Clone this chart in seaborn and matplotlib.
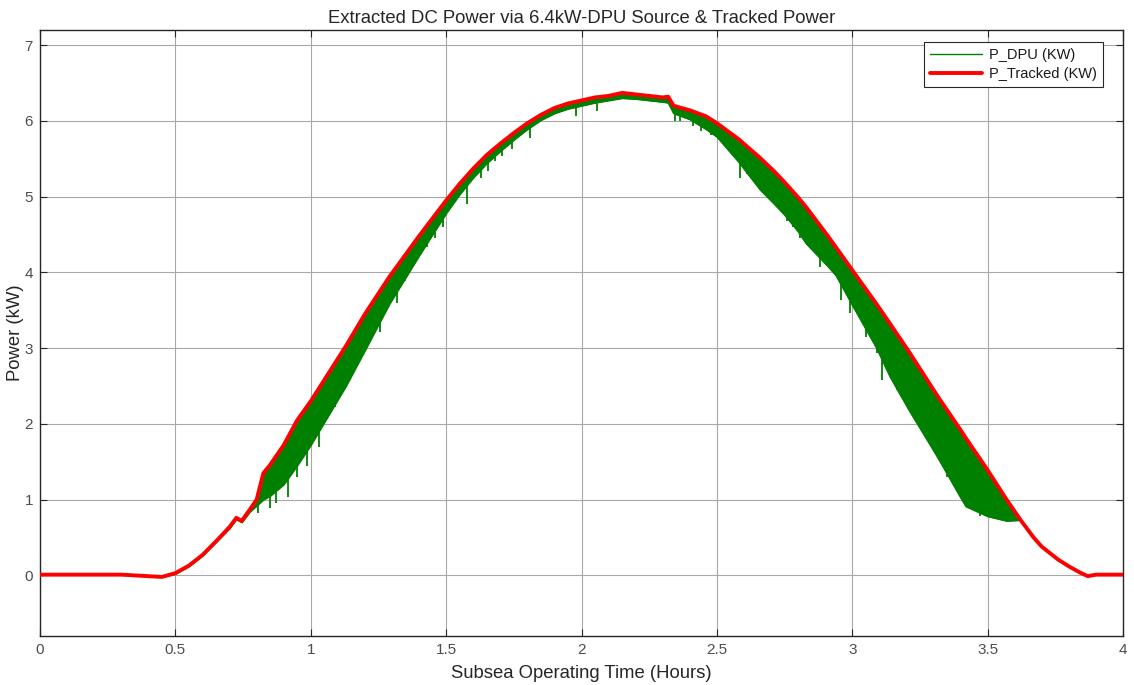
import numpy as np
import pandas as pd
import matplotlib
matplotlib.use("Agg")
import matplotlib.pyplot as plt
import seaborn as sns

# Time axis (hours) and the two power traces (kW)
t_hours = [0.00, 0.30, 0.45, 0.50, 0.55, 0.60, 0.65, 0.70, 0.725, 0.745, 0.775,
           0.80, 0.825, 0.85, 0.90, 0.95, 1.00, 1.05, 1.13, 1.20, 1.29, 1.40,
           1.50, 1.55, 1.60, 1.65, 1.70, 1.75, 1.80, 1.85, 1.90, 1.95, 2.00,
           2.05, 2.10, 2.15, 2.20, 2.25, 2.30, 2.32, 2.34, 2.40, 2.46, 2.50,
           2.58, 2.66, 2.71, 2.75, 2.80, 2.83, 2.91, 2.94, 3.00, 3.09, 3.14,
           3.21, 3.30, 3.32, 3.40, 3.42, 3.50, 3.57, 3.62, 3.67, 3.70, 3.76,
           3.80, 3.84, 3.87, 3.90, 4.00]

p_tracked = [0.01, 0.01, -0.02, 0.03, 0.13, 0.27, 0.45, 0.64, 0.76, 0.72, 0.87,
             1.00, 1.35, 1.46, 1.72, 2.05, 2.30, 2.58, 3.03, 3.45, 3.94, 4.48,
             4.95, 5.17, 5.37, 5.55, 5.70, 5.84, 5.97, 6.08, 6.17, 6.23, 6.27,
             6.31, 6.33, 6.37, 6.35, 6.33, 6.31, 6.32, 6.20, 6.14, 6.06, 5.97,
             5.76, 5.51, 5.34, 5.19, 4.99, 4.86, 4.48, 4.33, 4.03, 3.58, 3.32,
             2.95, 2.45, 2.34, 1.92, 1.81, 1.39, 1.00, 0.74, 0.50, 0.38, 0.21,
             0.12, 0.04, -0.01, 0.01, 0.01]

# Lower edge of the oscillating DPU power band
p_dpu_low = [0.01, 0.01, -0.02, 0.02, 0.12, 0.26, 0.44, 0.62, 0.74, 0.70, 0.84,
             0.92, 1.00, 1.05, 1.20, 1.45, 1.72, 2.02, 2.50, 2.97, 3.58, 4.22,
             4.78, 5.03, 5.25, 5.44, 5.60, 5.75, 5.89, 6.01, 6.10, 6.16, 6.20,
             6.24, 6.27, 6.30, 6.29, 6.27, 6.25, 6.24, 6.10, 6.02, 5.89, 5.79,
             5.46, 5.09, 4.91, 4.76, 4.54, 4.38, 4.08, 3.96, 3.57, 3.00, 2.62,
             2.18, 1.65, 1.53, 1.03, 0.91, 0.78, 0.72, 0.73, 0.50, 0.38, 0.21,
             0.12, 0.04, -0.01, 0.01, 0.01]

# Deep downward ripples of the DPU power (time, minimum value)
spike_t = [0.805, 0.85, 0.87, 0.916, 0.95, 0.985, 1.03, 1.09, 1.145, 1.19,
           1.256, 1.318, 1.348, 1.385, 1.43, 1.46, 1.49, 1.577, 1.63, 1.655,
           1.68, 1.706, 1.743, 1.81, 1.98, 2.057, 2.345, 2.364, 2.41, 2.44,
           2.48, 2.585, 2.61, 2.64, 2.76, 2.78, 2.807, 2.88, 2.96, 2.99, 3.05,
           3.09, 3.11, 3.165, 3.19, 3.35, 3.387, 3.435, 3.47, 3.52]
spike_low = [0.83, 0.89, 0.95, 1.03, 1.30, 1.45, 1.70, 2.22, 2.58, 2.88,
             3.21, 3.60, 3.89, 4.12, 4.33, 4.45, 4.60, 4.90, 5.25, 5.34,
             5.47, 5.54, 5.63, 5.78, 6.07, 6.13, 6.00, 6.00, 5.93, 5.87,
             5.82, 5.25, 5.30, 5.23, 4.68, 4.60, 4.46, 4.07, 3.63, 3.46, 3.15,
             2.93, 2.58, 2.45, 2.36, 1.30, 1.13, 0.91, 0.78, 0.78]

x_ticks = [0, 0.5, 1, 1.5, 2, 2.5, 3, 3.5, 4]
x_tick_labels = ["0", "0.5", "1", "1.5", "2", "2.5", "3", "3.5", "4"]
y_ticks = [0, 1, 2, 3, 4, 5, 6, 7]
y_tick_labels = ["0", "1", "2", "3", "4", "5", "6", "7"]

sns.set_theme(style="whitegrid")
plt.rcParams["font.family"] = ["Liberation Sans", "DejaVu Sans"]

GREEN = "#008000"
RED = "#ff0000"
TXT = "#4d4d4d"

df = pd.DataFrame({"t": t_hours, "tracked": p_tracked, "dpu_low": p_dpu_low})

fig = plt.figure(figsize=(11.34, 6.85), dpi=100)
ax = fig.add_axes([0.0353, 0.0715, 0.955, 0.8847])
ax.set_facecolor("white")

# DPU power: filled ripple band plus its deepest excursions
ax.fill_between(df["t"], df["dpu_low"], df["tracked"], color=GREEN, lw=0.8,
                edgecolor=GREEN, zorder=2)
spike_top = np.interp(spike_t, t_hours, p_tracked)
ax.vlines(spike_t, spike_low, spike_top, color=GREEN, lw=1.3, zorder=2)
sns.lineplot(data=df, x="t", y="dpu_low", color=GREEN, lw=1.0,
             label="P_DPU (KW)", ax=ax, zorder=2)

# Tracked power on top
sns.lineplot(data=df, x="t", y="tracked", color=RED, lw=2.8,
             label="P_Tracked (KW)", ax=ax, zorder=3)

ax.set_xlim(0, 4)
ax.set_ylim(-0.8, 7.2)
ax.set_xticks(x_ticks)
ax.set_xticklabels(x_tick_labels)
ax.set_yticks(y_ticks)
ax.set_yticklabels(y_tick_labels)

ax.grid(True, color="#a8a8a8", lw=0.8)
ax.set_axisbelow(True)
for s in ax.spines.values():
    s.set_visible(True)
    s.set_color("#262626")
    s.set_linewidth(1.0)

ax.tick_params(axis="both", which="major", direction="in", length=5, width=0.8,
               color="#262626", labelsize=11, labelcolor=TXT,
               top=True, right=True, bottom=True, left=True, pad=5)

ax.set_title("Extracted DC Power via 6.4kW-DPU Source & Tracked Power",
             fontsize=13.3, color="#262626", pad=5)
ax.set_xlabel("Subsea Operating Time (Hours)", fontsize=13.3, color="#262626",
              labelpad=6)
ax.set_ylabel("Power (kW)", fontsize=13.3, color="#262626")
ax.yaxis.set_label_coords(-0.0148, 0.5)

leg = ax.legend(loc="upper right", bbox_to_anchor=(0.9815, 0.981),
                borderaxespad=0, fontsize=10.5, frameon=True, fancybox=False,
                framealpha=1, borderpad=0.42, handlelength=3.6,
                handletextpad=0.45, labelspacing=0.35)
leg.get_frame().set_edgecolor("#262626")
leg.get_frame().set_linewidth(0.8)
for txt in leg.get_texts():
    txt.set_color("#1a1a1a")

fig.savefig("out.png", dpi=100, facecolor="white")
